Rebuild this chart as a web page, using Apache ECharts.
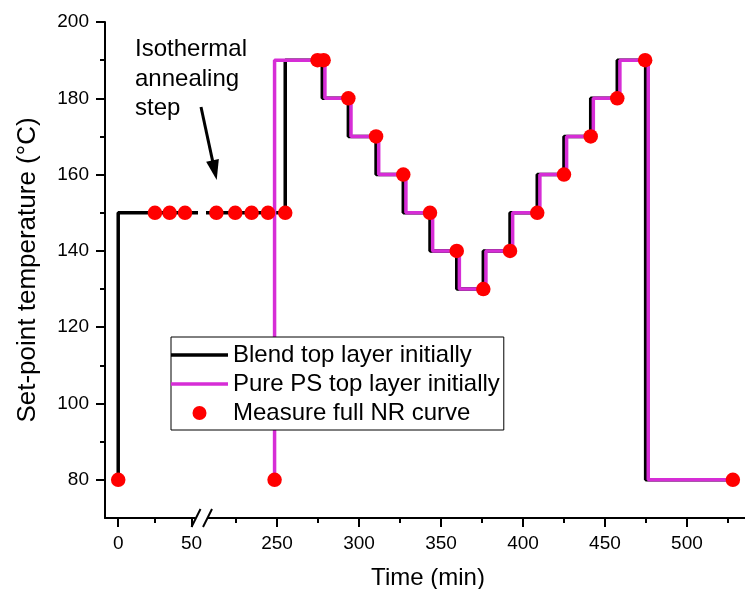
<!DOCTYPE html>
<html><head><meta charset="utf-8">
<script src="https://cdn.jsdelivr.net/npm/echarts@6/dist/echarts.min.js"></script>
<style>html,body{margin:0;padding:0;background:#fff}#c{width:745px;height:589px}</style>
</head><body><div id="c"></div>
<script>
// ---------- data ----------
const yTickLabels = [80, 100, 120, 140, 160, 180, 200];
const yMinorTicks = [90, 110, 130, 150, 170, 190];
const xTickLabelsLeft = [0, 50];
const xMinorLeft = [25];
const xTickLabelsRight = [250, 300, 350, 400, 450, 500];
const xMinorRight = [225, 275, 325, 375, 425, 475, 525];

// step vertices: at time[i] the set-point becomes temp[i]
const blendTime = [0, 0, 255, 277.6, 293.5, 310.4, 327.0, 343.3, 359.6, 375.8, 392.1, 408.7, 425.0, 441.3, 457.5, 474.8, 528];
const blendTemp = [80, 150, 190, 180, 170, 160, 150, 140, 130, 140, 150, 160, 170, 180, 190, 80, 80];

const pureTime = [248.5, 248.5, 279.2, 295.1, 312.0, 328.6, 344.9, 361.2, 377.4, 393.7, 410.3, 426.6, 442.9, 459.1, 476.4, 528];
const pureTemp = [80, 190, 180, 170, 160, 150, 140, 130, 140, 150, 160, 170, 180, 190, 80, 80];

const measureTime = [0, 25, 35, 45.5, 213, 224.5, 234.5, 244.5, 255, 248.5, 274.7, 278.4, 293.5, 310.4, 327.0, 343.3, 359.6, 375.8, 392.1, 408.7, 425.0, 441.3, 457.5, 474.5, 528];
const measureTemp = [80, 150, 150, 150, 150, 150, 150, 150, 150, 80, 190, 190, 180, 170, 160, 150, 140, 130, 140, 150, 160, 170, 180, 190, 80];

const names = ['Blend top layer initially', 'Pure PS top layer initially', 'Measure full NR curve'];

// ---------- build ----------
const zip = (a, b) => a.map((v, i) => [v, b[i]]);
const blendData = zip(blendTime, blendTemp);
const pureData = zip(pureTime, pureTemp);
const measureData = zip(measureTime, measureTemp);
const LEFT_MAX = 52.3, RIGHT_MIN = 207.9;
const measureLeft = measureData.filter(p => p[0] <= LEFT_MAX);
const measureRight = measureData.filter(p => p[0] >= RIGHT_MIN);

const FONT = '"Liberation Sans", Arial, sans-serif';
const BLACK = '#000000', PINK = '#d62dd6', RED = '#ff0000';
const LW = 3.5;

function xAxisPair(grid, min, max, labels, minor) {
  return [
    { type: 'value', gridIndex: grid, position: 'bottom', min: min, max: max,
      axisLine: { show: true, onZero: false, lineStyle: { color: BLACK, width: 2 } },
      axisTick: { show: true, inside: false, length: 9, customValues: labels, lineStyle: { color: BLACK, width: 2 } },
      axisLabel: { show: true, customValues: labels, margin: 16, fontSize: 19, color: BLACK, fontFamily: FONT },
      splitLine: { show: false } },
    { type: 'value', gridIndex: grid, position: 'bottom', min: min, max: max,
      axisLine: { show: false, onZero: false },
      axisTick: { show: true, inside: false, length: 5, customValues: minor, lineStyle: { color: BLACK, width: 2 } },
      axisLabel: { show: false },
      splitLine: { show: false } }
  ];
}

const chart = echarts.init(document.getElementById('c'), null, { renderer: 'canvas' });

const arrowStart = [201, 107], arrowTip = [216.7, 180];
const dx = arrowTip[0] - arrowStart[0], dy = arrowTip[1] - arrowStart[1];
const len = Math.sqrt(dx * dx + dy * dy), ux = dx / len, uy = dy / len;
const headL = 20, headW = 6.5;
const hb = [arrowTip[0] - ux * headL, arrowTip[1] - uy * headL];

chart.setOption({
  animation: false,
  backgroundColor: '#ffffff',
  textStyle: { fontFamily: FONT },
  grid: [
    { left: 105, top: 22, width: 90, bottom: 71, containLabel: false },
    { left: 208, top: 22, right: 0, bottom: 71, containLabel: false }
  ],
  xAxis: [].concat(
    xAxisPair(0, -9, LEFT_MAX, xTickLabelsLeft, xMinorLeft),
    xAxisPair(1, RIGHT_MIN, 535.4, xTickLabelsRight, xMinorRight)
  ),
  yAxis: [
    { type: 'value', gridIndex: 0, position: 'left', min: 70, max: 200,
      name: 'Set-point temperature (°C)', nameLocation: 'middle', nameGap: 64,
      nameTextStyle: { fontSize: 26, color: BLACK, fontFamily: FONT },
      axisLine: { show: true, onZero: false, lineStyle: { color: BLACK, width: 2 } },
      axisTick: { show: true, inside: false, length: 9, customValues: yTickLabels, lineStyle: { color: BLACK, width: 2 } },
      axisLabel: { show: true, customValues: yTickLabels, margin: 16, fontSize: 19, color: BLACK, fontFamily: FONT },
      splitLine: { show: false } },
    { type: 'value', gridIndex: 0, position: 'left', min: 70, max: 200,
      axisLine: { show: false, onZero: false },
      axisTick: { show: true, inside: false, length: 5, customValues: yMinorTicks, lineStyle: { color: BLACK, width: 2 } },
      axisLabel: { show: false }, splitLine: { show: false } },
    { type: 'value', gridIndex: 1, min: 70, max: 200, show: false, splitLine: { show: false } }
  ],
  legend: {
    orient: 'vertical', left: 171, top: 337,
    data: [
      { name: names[0], icon: 'path://M0,0H60V3.5H0Z' },
      { name: names[1], icon: 'path://M0,0H60V3.5H0Z' },
      { name: names[2] }
    ],
    itemWidth: 57, itemHeight: 14, itemGap: 5,
    padding: [6, 4, 5, 0],
    backgroundColor: '#ffffff', borderColor: BLACK, borderWidth: 1, borderRadius: 0,
    itemStyle: { borderWidth: 0 },
    textStyle: { fontSize: 24, color: BLACK, fontFamily: FONT },
    selectedMode: false
  },
  series: [
    { name: names[0], type: 'line', xAxisIndex: 0, yAxisIndex: 0, data: blendData, step: 'end',
      symbol: 'none', color: BLACK, lineStyle: { color: BLACK, width: LW }, clip: true, z: 2 },
    { name: names[0], type: 'line', xAxisIndex: 2, yAxisIndex: 2, data: blendData, step: 'end',
      symbol: 'none', color: BLACK, lineStyle: { color: BLACK, width: LW }, clip: true, z: 2 },
    { name: names[1], type: 'line', xAxisIndex: 2, yAxisIndex: 2, data: pureData, step: 'end',
      symbol: 'none', color: PINK, lineStyle: { color: PINK, width: LW }, clip: true, z: 3 },
    { name: names[2], type: 'scatter', xAxisIndex: 0, yAxisIndex: 0, data: measureLeft,
      symbol: 'circle', symbolSize: 14.5, itemStyle: { color: RED, opacity: 1 }, clip: false, z: 4 },
    { name: names[2], type: 'scatter', xAxisIndex: 2, yAxisIndex: 2, data: measureRight,
      symbol: 'circle', symbolSize: 14.5, itemStyle: { color: RED, opacity: 1 }, clip: false, z: 4 }
  ],
  graphic: [
    { type: 'text', x: 135, y: 35, z: 10,
      style: { text: 'Isothermal\nannealing\nstep', fontSize: 24, fontFamily: FONT, lineHeight: 29.5, fill: BLACK } },
    { type: 'line', z: 10, shape: { x1: arrowStart[0], y1: arrowStart[1], x2: hb[0] + ux * 2, y2: hb[1] + uy * 2 },
      style: { stroke: BLACK, lineWidth: 3 } },
    { type: 'polygon', z: 10, shape: { points: [arrowTip, [hb[0] - uy * headW, hb[1] + ux * headW], [hb[0] + uy * headW, hb[1] - ux * headW]] },
      style: { fill: BLACK } },
    { type: 'line', z: 10, shape: { x1: 191.5, y1: 527, x2: 200.5, y2: 509 }, style: { stroke: BLACK, lineWidth: 2 } },
    { type: 'line', z: 10, shape: { x1: 203, y1: 527, x2: 212, y2: 509 }, style: { stroke: BLACK, lineWidth: 2 } },
    { type: 'text', x: 428, y: 566, z: 10,
      style: { text: 'Time (min)', fontSize: 24, fontFamily: FONT, fill: BLACK, textAlign: 'center' } }
  ]
});
</script></body></html>
